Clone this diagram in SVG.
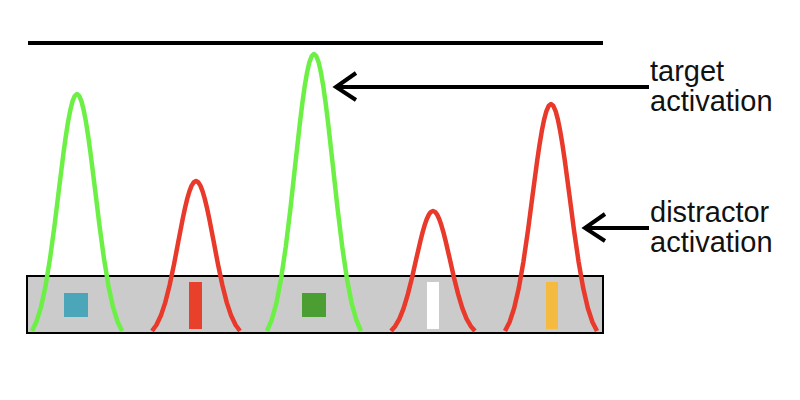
<svg xmlns="http://www.w3.org/2000/svg" xmlns:xlink="http://www.w3.org/1999/xlink" width="800" height="400" viewBox="0 0 800 400">
<style>
.bell{fill:none;stroke-width:4.5;stroke-linejoin:round;vector-effect:non-scaling-stroke}
.tgt{stroke:#6cf046}
.dst{stroke:#e8392a}
.arrow{fill:none;stroke:#000;stroke-width:4;stroke-linecap:butt;stroke-linejoin:miter}
.lbl{font-family:"Liberation Sans",Arial,sans-serif;font-size:29px;fill:#111}
</style>
<defs>
<path id="bellshape" class="bell" d="M-1,0 L-0.9,-0.040 L-0.8,-0.101 L-0.7,-0.189 L-0.6,-0.305 L-0.5,-0.444 L-0.4,-0.599 L-0.3,-0.751 L-0.25,-0.820 L-0.2,-0.881 L-0.15,-0.931 L-0.1,-0.969 L-0.05,-0.992 L0,-1 L0.05,-0.992 L0.1,-0.969 L0.15,-0.931 L0.2,-0.881 L0.25,-0.820 L0.3,-0.751 L0.4,-0.599 L0.5,-0.444 L0.6,-0.305 L0.7,-0.189 L0.8,-0.101 L0.9,-0.040 L1,0"/>
</defs>
<rect width="800" height="400" fill="#fff"/>
<g id="threshold"><line x1="28" y1="43" x2="603" y2="43" stroke="#000" stroke-width="4"/></g>
<g id="display"><rect x="27" y="276" width="576" height="57" fill="#cbcbcb" stroke="#000" stroke-width="2"/></g>
<g id="item1">
<use xlink:href="#bellshape" class="tgt" transform="translate(77,331) scale(45,237)"/>
<rect x="64" y="293" width="24" height="24" fill="#4aa6b8"/>
</g>
<g id="item2">
<use xlink:href="#bellshape" class="dst" transform="translate(196,331) scale(44,150)"/>
<rect x="189" y="282" width="13" height="47" fill="#e8402a"/>
</g>
<g id="item3">
<use xlink:href="#bellshape" class="tgt" transform="translate(314,331) scale(47,277)"/>
<rect x="302" y="293" width="24" height="24" fill="#4a9e32"/>
</g>
<g id="item4">
<use xlink:href="#bellshape" class="dst" transform="translate(433,331) scale(42,120)"/>
<rect x="427" y="282" width="12" height="47" fill="#ffffff"/>
</g>
<g id="item5">
<use xlink:href="#bellshape" class="dst" transform="translate(551,331) scale(46,227)"/>
<rect x="546" y="282" width="12" height="47" fill="#f5bb40"/>
</g>
<g id="connectors">
<path class="arrow" d="M649,87 L336,87 M356,73 L336,87 L356,100"/>
<path class="arrow" d="M649,228 L585,228 M605,214 L585,228 L605,241"/>
</g>
<g id="label-target">
<text class="lbl" x="650" y="81">target</text>
<text class="lbl" x="650" y="111">activation</text>
</g>
<g id="label-distractor">
<text class="lbl" x="650" y="222">distractor</text>
<text class="lbl" x="650" y="252">activation</text>
</g>
</svg>
